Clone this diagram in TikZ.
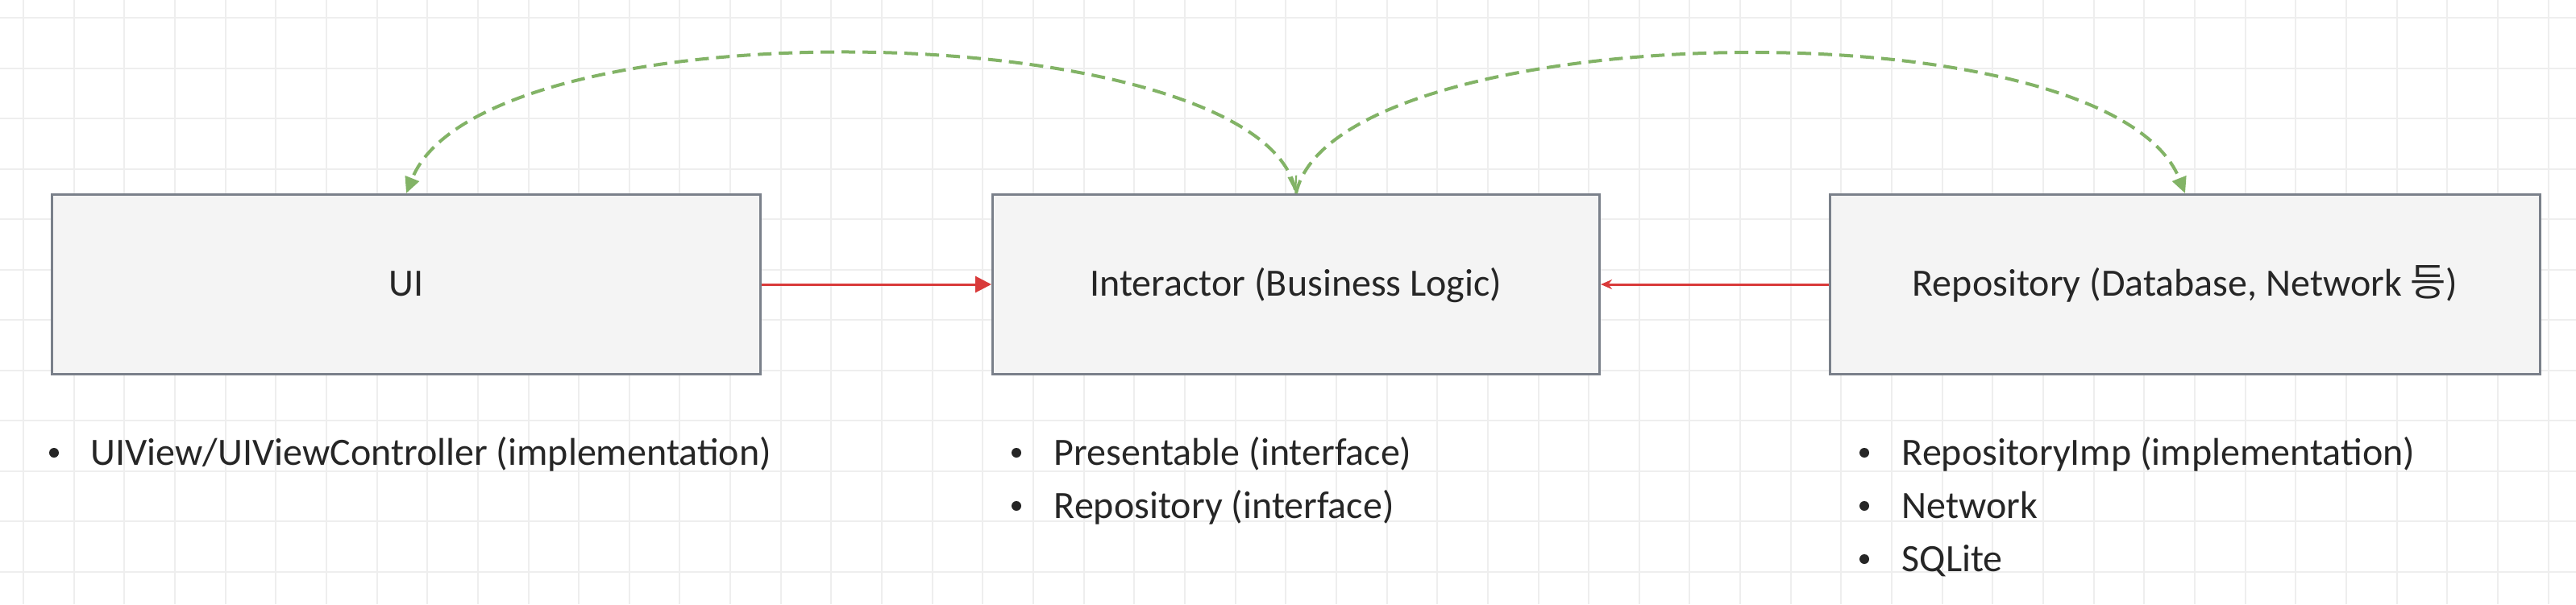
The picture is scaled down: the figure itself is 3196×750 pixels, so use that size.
\documentclass[tikz,border=0pt]{standalone}
\usepackage{fontspec}
\setmainfont{Carlito}
\newfontfamily\krfont{Noto Sans CJK KR}
\usetikzlibrary{arrows.meta}
\definecolor{gridc}{HTML}{EEEEEE}
\definecolor{boxfill}{HTML}{F4F4F4}
\definecolor{boxline}{HTML}{7A808A}
\definecolor{txt}{HTML}{262626}
\definecolor{redc}{HTML}{D93A3A}
\definecolor{greenc}{HTML}{82B366}
\begin{document}
\begin{tikzpicture}[x=0.25pt,y=-0.25pt,
  gridline/.style={draw=gridc, line width=0.5pt},
  layerbox/.style={draw=boxline, fill=boxfill, line width=0.8pt, inner sep=0pt,
    minimum height=55.7pt, text=txt, font=\fontsize{12pt}{15pt}\selectfont,
    text height=9.84pt, text depth=2.4pt},
  itemtext/.style={anchor=base west, inner sep=0pt, text=txt, font=\fontsize{12pt}{15pt}\selectfont},
  bulletmark/.style={circle, fill=txt, inner sep=0pt, minimum size=3pt},
  redarrow/.style={draw=redc, line width=0.75pt},
  greendash/.style={draw=greenc, line width=1pt, dash pattern=on 4.25pt off 2.25pt}
]
\useasboundingbox[fill=white] (0,0) rectangle (3196,750);
% background grid
\foreach \i in {0,...,50} \draw[gridline] ({29+\i*62.65},0) -- ({29+\i*62.65},750);
\foreach \j in {0,...,11} \draw[gridline] (0,{22+\j*62.5}) -- (3196,{22+\j*62.5});

% boxes
\node[layerbox, minimum width=219.7pt] (ui) at (504,353) {UI};
\node[layerbox, minimum width=188.2pt] (int) at (1608,353) {Interactor (Business Logic)};
\node[layerbox, minimum width=220.2pt] (repo) at (2711,353) {Repository (Database, Network {\krfont 등})};

% connectors
\draw[redarrow, -{Triangle[length=5pt,width=5pt]}] (ui.east) -- (int.west);
\draw[redarrow, -{Stealth[length=3.5pt,width=3pt]}] (repo.west) -- (int.east);
\draw[greendash, {Straight Barb[length=4.5pt,width=2.5pt,line width=0.5pt]}-{Triangle[length=5pt,width=4.5pt]}]
  (int.north) .. controls (1560,20) and (600,0) .. (ui.north);
\draw[greendash, -{Triangle[length=5pt,width=4.5pt]}]
  (int.north) .. controls (1656,20) and (2616,0) .. (repo.north);

% lists
\node[bulletmark] (b1) at (67,562) {};
\node[itemtext] (t1) at (112,577) {UIView/UIViewController (implementation)};

\node[bulletmark] (b2) at (1261,562) {};
\node[itemtext] (t2) at (1307,577) {Presentable (interface)};
\node[bulletmark] (b3) at (1261,628) {};
\node[itemtext] (t3) at (1307,643) {Repository (interface)};

\node[bulletmark] (b4) at (2313,562) {};
\node[itemtext] (t4) at (2359,577) {RepositoryImp (implementation)};
\node[bulletmark] (b5) at (2313,628) {};
\node[itemtext] (t5) at (2359,643) {Network};
\node[bulletmark] (b6) at (2313,694) {};
\node[itemtext] (t6) at (2359,709) {SQLite};
\end{tikzpicture}
\end{document}
